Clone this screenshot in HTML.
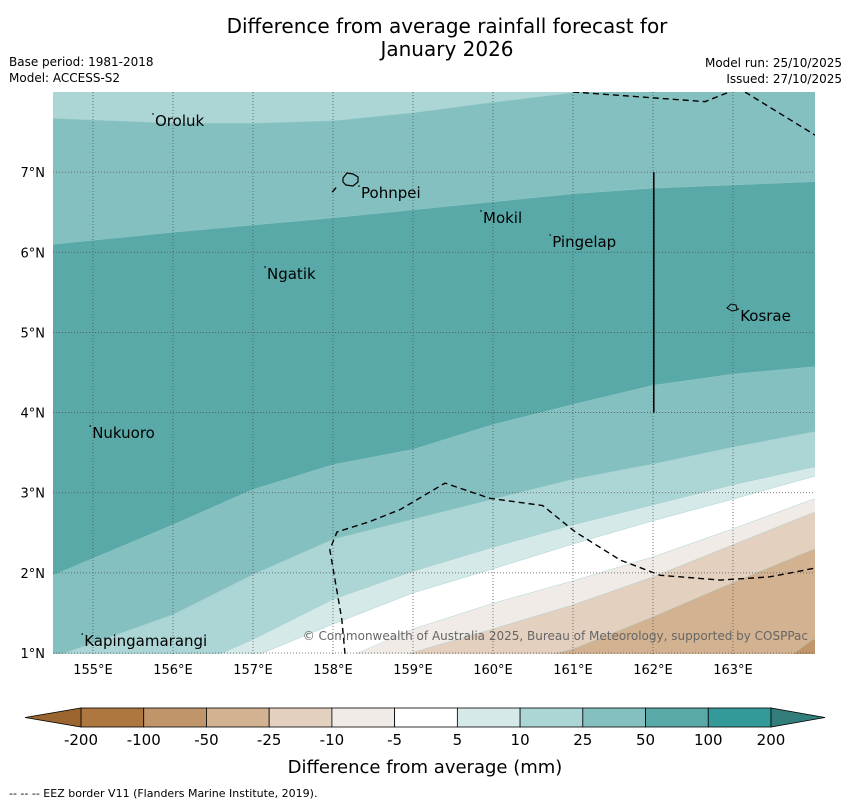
<!DOCTYPE html>
<html><head><meta charset="utf-8"><style>
body{margin:0;background:#fff;font-family:"DejaVu Sans","Liberation Sans",sans-serif;}
#wrap{position:relative;width:850px;height:804px;overflow:hidden;}
</style></head><body>
<div id="wrap">
<svg id="svg" width="850" height="804" xmlns="http://www.w3.org/2000/svg">
<text x="447" y="33" font-size="20" text-anchor="middle">Difference from average rainfall forecast for</text>
<text x="447" y="56" font-size="20" text-anchor="middle">January 2026</text>
<text x="9" y="66" font-size="12">Base period: 1981-2018</text>
<text x="9" y="82" font-size="12">Model: ACCESS-S2</text>
<text x="842" y="67" font-size="12" text-anchor="end">Model run: 25/10/2025</text>
<text x="842" y="83" font-size="12" text-anchor="end">Issued: 27/10/2025</text>
<defs><clipPath id="mapclip"><rect x="53" y="92" width="762" height="562"/></clipPath></defs>
<g id="map" clip-path="url(#mapclip)"></g>
<g id="over"></g>
<text x="9" y="797" font-size="11">--  --  -- EEZ border V11 (Flanders Marine Institute, 2019).</text>
<text x="425" y="773" font-size="18" text-anchor="middle">Difference from average (mm)</text>
</svg>
</div>
<script>
const lonMin=154.5, lonMax=164, latMin=1, latMax=8;
const X0=53,X1=813,Y0=92,Y1=653;
function px(lon){return X0+(lon-lonMin)/(lonMax-lonMin)*(X1-X0);}
function py(lat){return Y1-(lat-latMin)/(latMax-latMin)*(Y1-Y0);}
const lonTicks=[155,156,157,158,159,160,161,162,163];
const latTicks=[1,2,3,4,5,6,7];
const levels=["-200","-100","-50","-25","-10","-5","5","10","25","50","100","200"];
const levelColors=["#ae773f","#c0956a","#d3b291","#e4d0bf","#f0ebe7","#ffffff","#d5e9e8","#acd5d5","#84c0bf","#5aa9a9","#349999"];
const extColors=["#9b6530","#337e7c"];
const bgColor="#acd5d5";
const bandA=[[154.5,7.67],[156,7.61],[157,7.61],[158,7.64],[159,7.74],[160,7.87],[161,7.99],[161.2,8.05],[164.2,8.05]];
const bandB=[[154.5,6.1],[156,6.25],[157,6.34],[158,6.43],[159,6.53],[160,6.63],[161,6.73],[162,6.8],[164,6.88]];
const bandC=[[154.5,1.97],[156,2.6],[157,3.04],[158,3.35],[159,3.54],[160,3.85],[161,4.1],[162,4.34],[163,4.48],[164,4.57]];
const bandD=[[154.5,0.95],[156,1.48],[157,1.98],[158,2.42],[159,2.67],[160,2.92],[161,3.17],[162,3.36],[163,3.57],[164,3.76]];
const bandE=[[156.5,0.95],[157,1.17],[158,1.67],[159,2.02],[160,2.32],[161,2.6],[162,2.85],[163,3.1],[164,3.32]];
const bandF=[[157,0.95],[158,1.36],[159,1.75],[160,2.05],[161,2.36],[162,2.65],[163,2.92],[164,3.2]];
const bandG=[[158.2,0.95],[159,1.3],[160,1.62],[161,1.9],[162,2.2],[163,2.55],[164,2.92]];
const bandH=[[158.8,0.95],[160,1.3],[161,1.6],[162,1.95],[163,2.35],[164,2.75]];
const bandI=[[160.6,0.95],[161,1.05],[162,1.45],[163,1.88],[164,2.29]];
const bandJ=[[163.7,0.95],[164,1.17]];
const bands=[[bandA,8],[bandB,9],[bandC,8],[bandD,7],[bandE,6],[bandF,5],[bandG,4],[bandH,3],[bandI,2],[bandJ,1]];
const eezBottom=[[158.15,0.99],[158.11,1.42],[157.96,2.29],[158.05,2.51],[158.46,2.64],[158.84,2.79],[159.4,3.12],[159.96,2.93],[160.62,2.84],[161.03,2.51],[161.59,2.16],[162.09,1.97],[162.84,1.91],[163.46,1.95],[164.03,2.06]];
const eezTop1=[[161.0,8.0],[162.65,7.88],[163.03,8.03]];
const eezTop2=[[163.15,8.0],[164.03,7.46]];
const eezSmall=[[157.99,6.75],[158.05,6.82]];
const places=["Oroluk","Pohnpei","Mokil","Pingelap","Ngatik","Kosrae","Nukuoro","Kapingamarangi"];
const placeLon=[155.775,158.35,159.875,160.74,157.175,163.09,154.99,154.89];
const placeLat=[7.576,6.677,6.366,6.066,5.667,5.143,3.683,1.087];
const NS="http://www.w3.org/2000/svg";
function el(t,a,p){const e=document.createElementNS(NS,t);for(const k in a)e.setAttribute(k,a[k]);p.appendChild(e);return e;}
const map=document.getElementById('map'), over=document.getElementById('over'), svg=document.getElementById('svg');
const bg=el('rect',{x:53,y:92,width:762,height:562,fill:bgColor},map);


bands.forEach((b,i)=>{
  const pts=b[0].map(p=>px(p[0])+','+py(p[1]));
  const last=b[0][b[0].length-1], first=b[0][0];
  pts.push(px(164.5)+','+py(last[1]));pts.push(px(164.5)+','+py(0.5));pts.push(px(first[0]<154.6?154:first[0])+','+py(0.5));
  if(first[0]<154.6)pts.push(px(154)+','+py(first[1]));
  const poly=el('polygon',{points:pts.join(' '),fill:levelColors[b[1]],stroke:'#9cc',"stroke-width":0.4},map);
  
  
});
lonTicks.forEach(l=>{
  const g=el('line',{x1:px(l),x2:px(l),y1:92,y2:654,stroke:'#555',"stroke-width":0.8,"stroke-dasharray":"1,2"},map);
  
  
  const t=el('text',{x:px(l),y:674,"font-size":13,"text-anchor":"middle"},over);t.textContent=l+'°E';
  
  
});
latTicks.forEach(l=>{
  const g=el('line',{x1:53,x2:815,y1:py(l),y2:py(l),stroke:'#555',"stroke-width":0.8,"stroke-dasharray":"1,2"},map);
  
  
  const t=el('text',{x:45,y:py(l)+5,"font-size":13,"text-anchor":"end"},over);t.textContent=l+'°N';
  
  
});
[eezBottom,eezTop1,eezTop2,eezSmall].forEach(line=>{
  const p=el('polyline',{points:line.map(q=>px(q[0])+','+py(q[1])).join(' '),fill:'none',stroke:'#000',"stroke-width":1.4,"stroke-dasharray":"6,4"},map);
  
  
});
const vl=el('line',{x1:px(162.01),x2:px(162.01),y1:py(7),y2:py(4),stroke:'#000',"stroke-width":1.5},map);


const isl1=el('path',{d:"M343,178 l4,-5 6,1 5,3 0,5 -5,4 -7,-1 -3,-3z",fill:'none',stroke:'#000',"stroke-width":1.2},map);


const isl2=el('path',{d:"M727,308 l4,-4 5,1 1,5 -5,1z",fill:'none',stroke:'#000',"stroke-width":1},map);


places.forEach((n,i)=>{
  const d=el('circle',{cx:px(placeLon[i])-2,cy:py(placeLat[i])-12,r:0.8,fill:'#000'},map);
  
  
  const t=el('text',{x:px(placeLon[i]),y:py(placeLat[i]),"font-size":15,fill:'#000'},map);t.textContent=n;
  
  
});
const cp=el('text',{x:808,y:640,"font-size":12,fill:'#666',"text-anchor":"end"},map);cp.textContent='© Commonwealth of Australia 2025, Bureau of Meteorology, supported by COSPPac';


const cbX0=81,cbX1=771,cbY=708,cbH=19,segW=(cbX1-cbX0)/levelColors.length;
levelColors.forEach((c,i)=>{
  const r=el('rect',{x:cbX0+i*segW,y:cbY,width:segW,height:cbH,fill:c,stroke:'#000',"stroke-width":0.8},svg);
  
  
});
const e1=el('polygon',{points:`${cbX0},${cbY} ${cbX0},${cbY+cbH} 25,${cbY+cbH/2}`,fill:extColors[0],stroke:'#000',"stroke-width":0.8},svg);


const e2=el('polygon',{points:`${cbX1},${cbY} ${cbX1},${cbY+cbH} 825,${cbY+cbH/2}`,fill:extColors[1],stroke:'#000',"stroke-width":0.8},svg);


levels.forEach((l,i)=>{
  const t=el('text',{x:cbX0+i*segW,y:745,"font-size":15,"text-anchor":"middle"},svg);t.textContent=l;
  
  
});
</script>
</body></html>
